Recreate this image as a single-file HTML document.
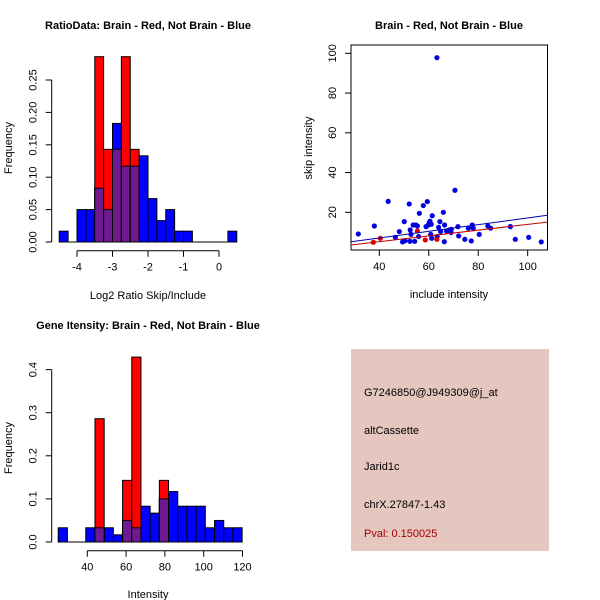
<!DOCTYPE html>
<html><head><meta charset="utf-8"><style>
html,body{margin:0;padding:0;background:#fff}
svg{display:block;font-family:"Liberation Sans",sans-serif}
</style></head><body>
<svg id="c" width="600" height="600" viewBox="0 0 600 600">
<text x="148" y="29" font-size="11" font-weight="bold" text-anchor="middle">RatioData: Brain - Red, Not Brain - Blue</text>
<text x="449" y="29" font-size="11" font-weight="bold" text-anchor="middle">Brain - Red, Not Brain - Blue</text>
<text x="148" y="329" font-size="11" font-weight="bold" text-anchor="middle">Gene Itensity: Brain - Red, Not Brain - Blue</text>
<g id="h1"></g>
<g id="h2"></g>
<g id="sc"></g>
<g>
<rect x="351" y="349" width="198" height="202" fill="#e5c7bf"/>
<text x="364" y="396" font-size="11">G7246850@J949309@j_at</text>
<text x="364" y="434" font-size="11">altCassette</text>
<text x="364" y="470" font-size="11">Jarid1c</text>
<text x="364" y="508" font-size="11">chrX.27847-1.43</text>
<text x="364" y="537" font-size="11" fill="#a00000">Pval: 0.150025</text>
</g>
</svg>
<script>
// ratio histogram data
const h1Start=-4.5, h1Width=0.25;
const h1Blue=[0.0167,0,0.05,0.05,0.083,0.05,0.183,0.117,0.117,0.133,0.067,0.033,0.05,0.0167,0.0167,0,0,0,0,0.0167];
const h1Red=[0,0,0,0,0.286,0.143,0.143,0.286,0.143,0,0,0,0,0,0,0,0,0,0,0];
const h1XTicks=[-4,-3,-2,-1,0];
const h1YTicks=[0,0.05,0.10,0.15,0.20,0.25];
const h1YLabels=["0.00","0.05","0.10","0.15","0.20","0.25"];
// intensity histogram data
const h2Start=25.0, h2Width=4.74;
const h2Blue=[0.033,0,0,0.033,0.033,0.033,0.0167,0.05,0.033,0.083,0.067,0.1,0.117,0.083,0.083,0.083,0.033,0.05,0.033,0.033];
const h2Red=[0,0,0,0,0.286,0,0,0.143,0.429,0,0,0.143,0,0,0,0,0,0,0,0];
const h2XTicks=[40,60,80,100,120];
const h2YTicks=[0,0.1,0.2,0.3,0.4];
const h2YLabels=["0.0","0.1","0.2","0.3","0.4"];
// scatter data
const blueX=[31.5,38,43.6,48.1,46.5,50.1,49.4,50.4,52.1,52.5,52.8,52.4,53.7,54.3,54.8,55.4,56.2,55.9,57.8,58.9,59.4,59.8,60.2,60.5,61,60.8,61.4,61.2,63.4,63.3,64,64.5,64.8,65.9,66.3,66.4,67.2,68.3,69.1,70.6,72.1,71.8,74.6,76,77.2,77.6,78,80.4,83.9,85,93,95,100.4,105.5,69];
const blueY=[9.1,13.1,25.5,10.3,7.4,15.3,5.1,5.7,24.2,11.1,8.9,5.4,13.6,5.4,13.6,13.1,19.5,7.8,23.4,12.8,25.4,13.6,14.8,15.5,14,8.9,18.3,6.9,7.8,97.8,12.4,15.3,10.3,20,5.2,13.6,10.6,11.1,11.4,31.1,8.1,12.8,6.4,12,5.6,13.6,12,8.9,13.1,12,12.8,6.4,7.4,5.1,9.8];
const redX=[37.6,40.4,55.4,58.6,63.3];
const redY=[4.9,6.9,10.6,6.1,6.4];
const blueFit=[0.36,0.168];
const redFit=[-0.58,0.145];
const scXTicks=[40,60,80,100];
const scYTicks=[20,40,60,80,100];

const NS="http://www.w3.org/2000/svg";
function mk(parent,tag,attrs){const e=document.createElementNS(NS,tag);for(const k in attrs)e.setAttribute(k,attrs[k]);parent.appendChild(e);return e;}

function hist(g,start,w,blue,red,xTicks,yTicks,yLabels,sx,sy,xLabel,prefix,xAxisY,yAxisX){
  for(let i=0;i<blue.length;i++){
    const x0=sx(start+i*w),x1=sx(start+(i+1)*w);
    if(blue[i]>0){const r=mk(g,'rect',{x:x0,y:sy(blue[i]),width:x1-x0,height:sy(0)-sy(blue[i]),fill:'#0000ff',stroke:'#000','stroke-width':1});
      
      }
  }
  for(let i=0;i<red.length;i++){
    if(red[i]<=0)continue;
    const x0=sx(start+i*w),x1=sx(start+(i+1)*w);
    const r=mk(g,'rect',{x:x0,y:sy(red[i]),width:x1-x0,height:sy(0)-sy(red[i]),fill:'#ff0000',stroke:'#000','stroke-width':1});
    
    
    const m=Math.min(red[i],blue[i]);
    if(m>0){const p=mk(g,'rect',{x:x0,y:sy(m),width:x1-x0,height:sy(0)-sy(m),fill:'#701a90',stroke:'#000','stroke-width':1});
      
      }
  }
  const b=mk(g,'line',{x1:sx(start),x2:sx(start+blue.length*w),y1:sy(0),y2:sy(0),stroke:'#000'});
  
  
  const xa=mk(g,'line',{x1:sx(xTicks[0]),x2:sx(xTicks[xTicks.length-1]),y1:xAxisY,y2:xAxisY,stroke:'#000'});
  
  
  xTicks.forEach(t=>{mk(g,'line',{x1:sx(t),x2:sx(t),y1:xAxisY,y2:xAxisY+6,stroke:'#000'});
    const tx=mk(g,'text',{x:sx(t),y:xAxisY+20,'font-size':11,'text-anchor':'middle'});tx.textContent=t;
    
    });
  const ya=mk(g,'line',{x1:yAxisX,x2:yAxisX,y1:sy(yTicks[0]),y2:sy(yTicks[yTicks.length-1]),stroke:'#000'});
  
  
  yTicks.forEach((t,i)=>{mk(g,'line',{x1:yAxisX-6,x2:yAxisX,y1:sy(t),y2:sy(t),stroke:'#000'});
    const tx=mk(g,'text',{x:0,y:0,'font-size':11,'text-anchor':'middle',transform:`translate(${yAxisX-15},${sy(t)}) rotate(-90)`});tx.textContent=yLabels[i];
    
    });
}

const g1=document.getElementById('h1');
hist(g1,h1Start,h1Width,h1Blue,h1Red,h1XTicks,h1YTicks,h1YLabels,v=>219+v*35.5,v=>242-v*648,'',"ratio",250.7,51.7);
const t1=mk(g1,'text',{x:148,y:299,'font-size':11,'text-anchor':'middle'});t1.textContent='Log2 Ratio Skip/Include';


const t1y=mk(g1,'text',{x:0,y:0,'font-size':11,'text-anchor':'middle',transform:'translate(12,148) rotate(-90)'});t1y.textContent='Frequency';



const g2=document.getElementById('h2');
hist(g2,h2Start,h2Width,h2Blue,h2Red,h2XTicks,h2YTicks,h2YLabels,v=>87.3+(v-40)*1.94,v=>542-v*431,'',"intensity",550.7,51.7);
const t2=mk(g2,'text',{x:148,y:598,'font-size':11,'text-anchor':'middle'});t2.textContent='Intensity';


const t2y=mk(g2,'text',{x:0,y:0,'font-size':11,'text-anchor':'middle',transform:'translate(12,448) rotate(-90)'});t2y.textContent='Frequency';



// scatter
const gs=document.getElementById('sc');
const sx=v=>379.3+(v-40)*2.473, sy=v=>53.3+(100-v)*1.9875;
const L=351,R=547.5,T=45,B=250;
const defs=mk(gs,'clipPath',{id:'clip'});mk(defs,'rect',{x:L,y:T,width:R-L,height:B-T});
const box=mk(gs,'rect',{x:L,y:T,width:R-L,height:B-T,fill:'none',stroke:'#000'});


blueX.forEach((x,i)=>{const c=mk(gs,'circle',{cx:sx(x),cy:sy(blueY[i]),r:2.6,fill:'#0000e0'});
  
  });
redX.forEach((x,i)=>{const c=mk(gs,'circle',{cx:sx(x),cy:sy(redY[i]),r:2.6,fill:'#e00000'});
  
  });
const xa0=(L-379.3)/2.473+40, xa1=(R-379.3)/2.473+40;
const bl=mk(gs,'line',{x1:L,x2:R,y1:sy(blueFit[0]+blueFit[1]*xa0),y2:sy(blueFit[0]+blueFit[1]*xa1),stroke:'#0000b0','clip-path':'url(#clip)'});


const rl=mk(gs,'line',{x1:L,x2:R,y1:sy(redFit[0]+redFit[1]*xa0),y2:sy(redFit[0]+redFit[1]*xa1),stroke:'#c00000','clip-path':'url(#clip)'});


scXTicks.forEach(t=>{mk(gs,'line',{x1:sx(t),x2:sx(t),y1:B,y2:B+6,stroke:'#000'});
  const tx=mk(gs,'text',{x:sx(t),y:B+20,'font-size':11,'text-anchor':'middle'});tx.textContent=t;
  
  });
scYTicks.forEach(t=>{mk(gs,'line',{x1:L-6,x2:L,y1:sy(t),y2:sy(t),stroke:'#000'});
  const tx=mk(gs,'text',{x:0,y:0,'font-size':11,'text-anchor':'middle',transform:`translate(${L-15},${sy(t)}) rotate(-90)`});tx.textContent=t;
  
  });
const sxt=mk(gs,'text',{x:449,y:298,'font-size':11,'text-anchor':'middle'});sxt.textContent='include intensity';


const syt=mk(gs,'text',{x:0,y:0,'font-size':11,'text-anchor':'middle',transform:'translate(312,148) rotate(-90)'});syt.textContent='skip intensity';


</script>
</body></html>
